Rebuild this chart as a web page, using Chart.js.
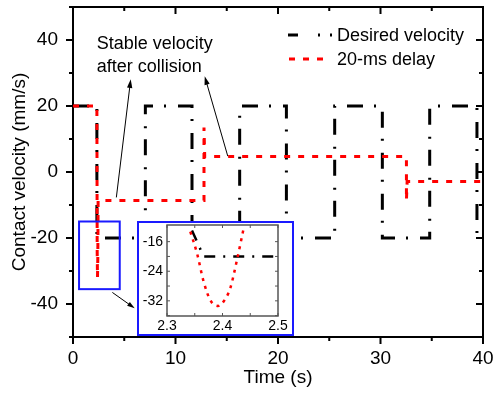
<!DOCTYPE html>
<html>
<head>
<meta charset="utf-8">
<script src="https://cdn.jsdelivr.net/npm/chart.js@4/dist/chart.umd.min.js"></script>
<style>
  body { margin: 0; background: #fff; }
  #wrap { position: relative; width: 493px; height: 393px; }
  #inset { position: absolute; left: 137px; top: 221px; width: 153px; height: 111px;
           border: 2px solid #1a1aff; background: #fff; }
  canvas { display: block; }
</style>
</head>
<body>
<div id="wrap">
  <canvas id="mainChart" width="493" height="393"></canvas>
  <div id="inset"><canvas id="insetChart" width="153" height="111"></canvas></div>
</div>
<script>
// values
const desiredTime = [0, 2.33, 2.33, 7.06, 7.06, 11.61, 11.61, 16.26, 16.26, 20.82, 20.82, 25.53, 25.53, 30.18, 30.18, 34.8, 34.8, 39.41, 39.41, 40]
const desiredVel = [20, 20, -20, -20, 20, 20, -20, -20, 20, 20, -20, -20, 20, 20, -20, -20, 20, 20, -20, -20]
const delayTime = [0, 2.33, 2.36, 2.39, 2.42, 2.45, 12.78, 12.78, 12.85, 32.53, 32.53, 32.6, 40]
const delayVel = [20, 20, -24, -32, -26, -8.6, -8.6, 13.5, 4.7, 4.7, -8.6, -2.9, -2.9]

// zoomed inset (2.3 - 2.5 s)
const insetDesiredTime = [2.345, 2.366, 2.5]
const insetDesiredVel = [-13, -20, -20]
const insetDelayTime = [2.342, 2.354, 2.366, 2.378, 2.392, 2.405, 2.414, 2.426, 2.438]
const insetDelayVel = [-13.3, -19.1, -26.8, -31.8, -33.4, -31.5, -28.6, -21, -12.5]

const xTicks = [0, 10, 20, 30, 40]
const yTicks = [-40, -20, 0, 20, 40]
const insetXTicks = [2.3, 2.4, 2.5]
const insetYTicks = [-32, -24, -16]

const seriesLabels = ['Desired velocity', '20-ms delay']
const noteLines = ['Stable velocity', 'after collision']

const FONT = "'Liberation Sans', Arial, sans-serif"
const BLUE = '#1a1aff'

const toPoints = (xs, ys) => xs.map((x, i) => ({ x: x, y: ys[i] }))
const setTicks = (vals) => (axis) => { axis.ticks = vals.map(v => ({ value: v })) }
// fixed axis size, no extra room reserved for edge labels
const fixSize = (key, size) => (axis) => {
  axis[key] = size
  axis.paddingTop = 0; axis.paddingBottom = 0
  axis.paddingLeft = 0; axis.paddingRight = 0
}

function drawArrow(ctx, x1, y1, x2, y2, head) {
  const ang = Math.atan2(y2 - y1, x2 - x1)
  ctx.beginPath()
  ctx.moveTo(x1, y1)
  ctx.lineTo(x2 - Math.cos(ang) * head * 0.8, y2 - Math.sin(ang) * head * 0.8)
  ctx.stroke()
  ctx.beginPath()
  ctx.moveTo(x2, y2)
  ctx.lineTo(x2 - head * Math.cos(ang - 0.3), y2 - head * Math.sin(ang - 0.3))
  ctx.lineTo(x2 - head * Math.cos(ang + 0.3), y2 - head * Math.sin(ang + 0.3))
  ctx.closePath()
  ctx.fill()
}

// ticks on all four sides: outward on bottom/left, inward on top/right
function drawTicks(ctx, area, xs, ys, xVals, yVals, major, minor, outward) {
  const dir = outward ? 1 : -1
  const mid = (vals) => vals.slice(1).map((v, i) => (v + vals[i]) / 2)
  ctx.beginPath()
  const tick = (v, len, isX) => {
    if (isX) {
      const px = xs.getPixelForValue(v)
      if (px < area.left - 1 || px > area.right + 1) return
      ctx.moveTo(px, area.bottom); ctx.lineTo(px, area.bottom + dir * len)
      ctx.moveTo(px, area.top); ctx.lineTo(px, area.top + len)
    } else {
      const py = ys.getPixelForValue(v)
      if (py < area.top - 1 || py > area.bottom + 1) return
      ctx.moveTo(area.left, py); ctx.lineTo(area.left - dir * len, py)
      ctx.moveTo(area.right, py); ctx.lineTo(area.right - len, py)
    }
  }
  xVals.forEach(v => tick(v, major, true))
  mid(xVals).forEach(v => tick(v, minor, true))
  yVals.forEach(v => tick(v, major, false))
  mid(yVals).forEach(v => tick(v, minor, false))
  ctx.stroke()
}

const framePlugin = {
  id: 'frame',
  afterDatasetsDraw(chart) {
    const { ctx, chartArea: a, scales: { x, y } } = chart
    ctx.save()
    ctx.strokeStyle = '#000'
    ctx.lineWidth = 2
    ctx.beginPath()
    ctx.moveTo(a.left, a.top); ctx.lineTo(a.right, a.top); ctx.lineTo(a.right, a.bottom)
    ctx.stroke()
    drawTicks(ctx, a, x, y, xTicks, [-60].concat(yTicks, [60]), 7, 4, true)

    // zoom box around the collision dip
    ctx.strokeStyle = BLUE
    ctx.lineWidth = 2
    const bx1 = x.getPixelForValue(0.59), bx2 = x.getPixelForValue(4.56)
    const by1 = y.getPixelForValue(-15), by2 = y.getPixelForValue(-35.5)
    ctx.strokeRect(bx1, by1, bx2 - bx1, by2 - by1)

    // arrows
    ctx.strokeStyle = '#000'
    ctx.fillStyle = '#000'
    ctx.lineWidth = 1
    drawArrow(ctx, x.getPixelForValue(4.23), y.getPixelForValue(-7.7), x.getPixelForValue(5.63), y.getPixelForValue(28.1), 9)
    drawArrow(ctx, x.getPixelForValue(15.1), y.getPixelForValue(4.8), x.getPixelForValue(12.85), y.getPixelForValue(29), 9)
    drawArrow(ctx, x.getPixelForValue(3.84), y.getPixelForValue(-36.5), x.getPixelForValue(6.02), y.getPixelForValue(-41.3), 8)

    // annotation text
    ctx.font = '18px ' + FONT
    ctx.textAlign = 'left'
    ctx.textBaseline = 'alphabetic'
    ctx.fillText(noteLines[0], x.getPixelForValue(2.32), y.getPixelForValue(37.2))
    ctx.fillText(noteLines[1], x.getPixelForValue(2.32), y.getPixelForValue(30.3))

    // legend
    ctx.lineWidth = 3
    ctx.lineCap = 'butt'
    ctx.setLineDash([10, 20, 2, 10, 2, 100])
    ctx.beginPath(); ctx.moveTo(288, 35); ctx.lineTo(335, 35); ctx.stroke()
    ctx.strokeStyle = '#ff0000'
    ctx.setLineDash([6, 8])
    ctx.beginPath(); ctx.moveTo(289, 59); ctx.lineTo(324, 59); ctx.stroke()
    ctx.setLineDash([])
    ctx.textBaseline = 'middle'
    ctx.fillText(seriesLabels[0], 337, 36)
    ctx.fillText(seriesLabels[1], 337, 60)
    ctx.restore()
  }
}

new Chart(document.getElementById('mainChart'), {
  type: 'line',
  data: {
    datasets: [{
      label: seriesLabels[0],
      data: toPoints(desiredTime, desiredVel),
      borderColor: '#000',
      borderWidth: 3,
      borderDash: [16, 11, 2, 12],
      borderCapStyle: 'butt',
      pointRadius: 0,
      order: 1,
    }, {
      label: seriesLabels[1],
      data: toPoints(delayTime, delayVel),
      borderColor: '#ff0000',
      borderWidth: 3,
      borderDash: [6, 8],
      borderCapStyle: 'butt',
      pointRadius: 0,
      order: 0,
    }]
  },
  options: {
    responsive: false,
    animation: false,
    layout: { padding: { top: 7, right: 10, left: 0, bottom: 0 } },
    plugins: { legend: { display: false }, tooltip: { enabled: false } },
    scales: {
      x: {
        type: 'linear', min: 0, max: 40,
        afterBuildTicks: setTicks(xTicks),
        afterFit: fixSize('height', 56),
        grid: { display: false, drawTicks: false },
        border: { display: true, color: '#000', width: 2 },
        ticks: { color: '#000', font: { size: 19, family: FONT }, padding: 10, maxRotation: 0 },
        title: { display: true, text: 'Time (s)', color: '#000', font: { size: 19, family: FONT }, padding: { top: 0, bottom: 4 } },
      },
      y: {
        type: 'linear', min: -50, max: 50,
        afterBuildTicks: setTicks(yTicks),
        afterFit: fixSize('width', 73),
        grid: { display: false, drawTicks: false },
        border: { display: true, color: '#000', width: 2 },
        ticks: { color: '#000', font: { size: 19, family: FONT }, padding: 15 },
        title: { display: true, text: 'Contact velocity (mm/s)', color: '#000', font: { size: 19, family: FONT }, padding: { top: 8, bottom: 0 } },
      }
    }
  },
  plugins: [framePlugin]
})

// inset chart
const insetFrame = {
  id: 'insetFrame',
  afterDatasetsDraw(chart) {
    const { ctx, chartArea: a, scales: { x, y } } = chart
    ctx.save()
    ctx.strokeStyle = '#555'
    ctx.lineWidth = 1.5
    ctx.strokeRect(a.left, a.top, a.right - a.left, a.bottom - a.top)
    ctx.lineWidth = 1
    drawTicks(ctx, a, x, y, insetXTicks, [-40].concat(insetYTicks), 3, 3, false)
    ctx.restore()
  }
}

new Chart(document.getElementById('insetChart'), {
  type: 'line',
  data: {
    datasets: [{
      data: toPoints(insetDesiredTime, insetDesiredVel),
      borderColor: '#000',
      borderWidth: 2.5,
      borderDash: [11, 8, 2, 8],
      borderCapStyle: 'butt',
      pointRadius: 0,
      order: 1,
    }, {
      data: toPoints(insetDelayTime, insetDelayVel),
      borderColor: '#ff0000',
      borderWidth: 2.5,
      borderDash: [3, 5],
      borderCapStyle: 'butt',
      cubicInterpolationMode: 'monotone',
      pointRadius: 0,
      order: 0,
    }]
  },
  options: {
    responsive: false,
    animation: false,
    layout: { padding: { top: 2, right: 14, left: 0, bottom: 0 } },
    plugins: { legend: { display: false }, tooltip: { enabled: false } },
    scales: {
      x: {
        type: 'linear', min: 2.3, max: 2.5,
        afterBuildTicks: setTicks(insetXTicks),
        afterFit: fixSize('height', 18),
        grid: { display: false, drawTicks: false },
        border: { display: false },
        ticks: { color: '#000', font: { size: 14, family: FONT }, padding: 2, maxRotation: 0 },
      },
      y: {
        type: 'linear', min: -36.1, max: -11.5,
        afterBuildTicks: setTicks(insetYTicks),
        afterFit: fixSize('width', 28),
        grid: { display: false, drawTicks: false },
        border: { display: false },
        ticks: { color: '#000', font: { size: 14, family: FONT }, padding: 4 },
      }
    }
  },
  plugins: [insetFrame]
})
</script>
</body>
</html>
